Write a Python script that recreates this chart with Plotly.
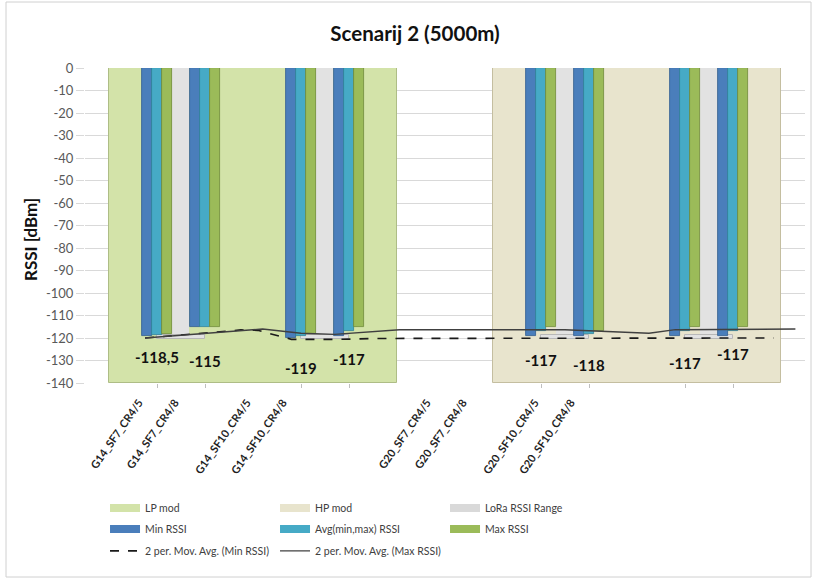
import plotly.graph_objects as go

# ---------------- data ----------------
configs = ["G14_SF7_CR4/5", "G14_SF7_CR4/8", "G14_SF10_CR4/5", "G14_SF10_CR4/8",
           "G20_SF7_CR4/5", "G20_SF7_CR4/8", "G20_SF10_CR4/5", "G20_SF10_CR4/8"]
min_rssi = [-119, -115, -120, -119, -119, -119, -119, -119]
avg_rssi = [-118.5, -115, -119, -117, -117, -118, -117, -117]
max_rssi = [-118, -115, -118, -115, -115, -117, -115, -115]

# LoRa RSSI range between each CR4/5 - CR4/8 pair
lora_range_top = [-118.5, -118.5, -118.5, -118.5]
lora_range_bottom = [-120.5, -120.5, -120.5, -120.5]

mode_names = ["LP mod", "HP mod"]
mode_floor = [-140, -140]

# 2-period moving averages (x in bar-slot units)
ma_min_x = [0.75, 2.75, 3.1, 3.8, 4.8, 5.6, 13.85]
ma_min_vals = [-120, -116.4, -116.6, -120.6, -120.6, -120.2, -120]
ma_max_x = [0.75, 3.2, 4.0, 4.7, 6.05, 9.5, 11.25, 11.8, 14.3]
ma_max_vals = [-120, -116, -117.9, -118.4, -116.3, -116.3, -117.9, -116.3, -116]

y_ticks = [0, -10, -20, -30, -40, -50, -60, -70, -80, -90, -100, -110, -120, -130, -140]

# ---------------- layout helpers ----------------
BAR_SLOTS = 15          # category slots on the bar axis
LABEL_SLOTS = 20        # category slots on the label axis
config_slot = [1, 2, 4, 5, 9, 10, 12, 13]
mode_span = [(0, 6), (8, 14)]
BAR_W = 0.21
FONT = "Lato"

C_LP, C_HP, C_RANGE = "#d3e3a9", "#e8e4cd", "#e2e2e2"
C_MIN, C_AVG, C_MAX = "#4a7ebb", "#46aac6", "#9bbb59"
L_MIN, L_AVG, L_MAX = "#2f5b8f", "#2f8199", "#6f8a3a"

fig = go.Figure()

# mode backgrounds
for name, floor, (a, b), col, edge in zip(mode_names, mode_floor, mode_span,
                                         [C_LP, C_HP], ["#aebd86", "#c4bea0"]):
    fig.add_trace(go.Bar(x=[(a + b) / 2], y=[floor], width=[b - a], name=name,
                         marker=dict(color=col, line=dict(color=edge, width=1)),
                         showlegend=False, hoverinfo="skip"))

# LoRa RSSI range: column down to the range top, band between top and bottom
pair_mid = [config_slot[i] + 0.5 for i in range(0, len(config_slot), 2)]
rx, rbase, ry, rw, rline = [], [], [], [], []
for m, top, bot in zip(pair_mid, lora_range_top, lora_range_bottom):
    rx += [m, m]
    rbase += [0, top]
    ry += [top, bot - top]
    rw += [0.34, 1.0]
    rline += [C_RANGE, "#b8b8b8"]
fig.add_trace(go.Bar(x=rx, y=ry, base=rbase, width=rw, name="LoRa RSSI Range",
                     marker=dict(color=C_RANGE, line=dict(color=rline, width=1)),
                     showlegend=False))

# RSSI bars
for name, vals, col, edge, off in [("Min RSSI", min_rssi, C_MIN, L_MIN, -BAR_W),
                                   ("Avg(min,max) RSSI", avg_rssi, C_AVG, L_AVG, 0.0),
                                   ("Max RSSI", max_rssi, C_MAX, L_MAX, BAR_W)]:
    fig.add_trace(go.Bar(x=[s + off for s in config_slot], y=vals, width=BAR_W,
                         name=name, marker=dict(color=col, line=dict(color=edge, width=0.8)),
                         showlegend=False))

# moving-average lines
fig.add_trace(go.Scatter(x=ma_min_x, y=ma_min_vals, mode="lines",
                         name="2 per. Mov. Avg. (Min RSSI)",
                         line=dict(color="#1a1a1a", width=1.6, dash="dash"),
                         legend="legend3"))
fig.add_trace(go.Scatter(x=ma_max_x, y=ma_max_vals, mode="lines",
                         name="2 per. Mov. Avg. (Max RSSI)",
                         line=dict(color="#404040", width=1.4),
                         legend="legend3"))

# legend swatches for the bar series
for name, col, leg in [("LP mod", C_LP, "legend"), ("HP mod", C_HP, "legend"),
                       ("LoRa RSSI Range", "#d9d9d9", "legend"),
                       ("Min RSSI", C_MIN, "legend2"), ("Avg(min,max) RSSI", C_AVG, "legend2"),
                       ("Max RSSI", C_MAX, "legend2")]:
    fig.add_trace(go.Scatter(x=[None], y=[None], mode="lines", name=name,
                             line=dict(color=col, width=8), legend=leg, hoverinfo="skip"))

# value labels under each group
label_drop = [22, 34, 32, 28, 29, 31, 32, 23]
for s, v, d in zip(config_slot, avg_rssi, label_drop):
    fig.add_annotation(x=s, y=v, xref="x", yref="y", yshift=-d,
                       text="<b>" + f"{v:g}".replace(".", ",") + "</b>", showarrow=False,
                       font=dict(family=FONT, size=15, color="#111111"),
                       xanchor="center", yanchor="middle")

# y-axis title
fig.add_annotation(x=(30 - 85) / 720, y=(383 - 239) / 315, xref="paper", yref="paper",
                   text="<b>RSSI [dBm]</b>", textangle=-90, showarrow=False,
                   xanchor="center", yanchor="middle",
                   font=dict(family=FONT, size=17, color="#111111"))

label_slots = config_slot  # same indices on the 20-slot label axis

def legend_row(y):
    return dict(orientation="h", x=0.0278, xanchor="left", y=y, yanchor="middle",
                entrywidth=125, entrywidthmode="pixels", itemwidth=30,
                bgcolor="rgba(0,0,0,0)", borderwidth=0,
                font=dict(family=FONT, size=10.5, color="#404040"))

fig.update_layout(
    width=817, height=580,
    margin=dict(l=85, r=12, t=68, b=197),
    paper_bgcolor="white", plot_bgcolor="white",
    barmode="overlay", bargap=0,
    title=dict(text="<b>Scenarij 2 (5000m)</b>", x=0.508, xanchor="center",
               y=1 - 34 / 580, yanchor="middle",
               font=dict(family=FONT, size=20.5, color="#111111")),
    xaxis=dict(range=[-0.5, BAR_SLOTS - 0.5], showgrid=False, zeroline=False,
               showticklabels=False, tickvals=config_slot, ticks="outside",
               ticklen=4, tickcolor="#bfbfbf", showline=False),
    xaxis2=dict(range=[-0.5, LABEL_SLOTS - 0.5], overlaying="x", side="bottom",
                anchor="y", showgrid=False, zeroline=False, ticks="",
                tickvals=label_slots, ticktext=configs, tickangle=-55,
                ticklabelstandoff=10,
                tickfont=dict(family=FONT, size=11, color="#1f1f1f", weight="bold")),
    yaxis=dict(range=[-140, 0], tickvals=y_ticks, ticktext=[str(t) for t in y_ticks],
               showgrid=True, gridcolor="#d9d9d9", gridwidth=1, zeroline=False,
               ticks="outside", ticklen=8, tickcolor="#d9d9d9",
               tickfont=dict(family=FONT, size=13, color="#595959"), showline=False),
    legend=legend_row(-0.397),
    legend2=legend_row(-0.4635),
    legend3=legend_row(-0.533),
    showlegend=True,
    font=dict(family=FONT),
)

# a dummy trace so the label axis is drawn
fig.add_trace(go.Scatter(x=[label_slots[0]], y=[None], xaxis="x2", yaxis="y",
                         showlegend=False, hoverinfo="skip"))

# chart border
fig.add_shape(type="rect", xref="paper", yref="paper",
              x0=(6 - 85) / 720, x1=(811 - 85) / 720, y0=(383 - 577) / 315, y1=(383 - 2) / 315,
              line=dict(color="#d0d0d0", width=1), fillcolor="rgba(0,0,0,0)", layer="below")

fig.write_html("out.html")
